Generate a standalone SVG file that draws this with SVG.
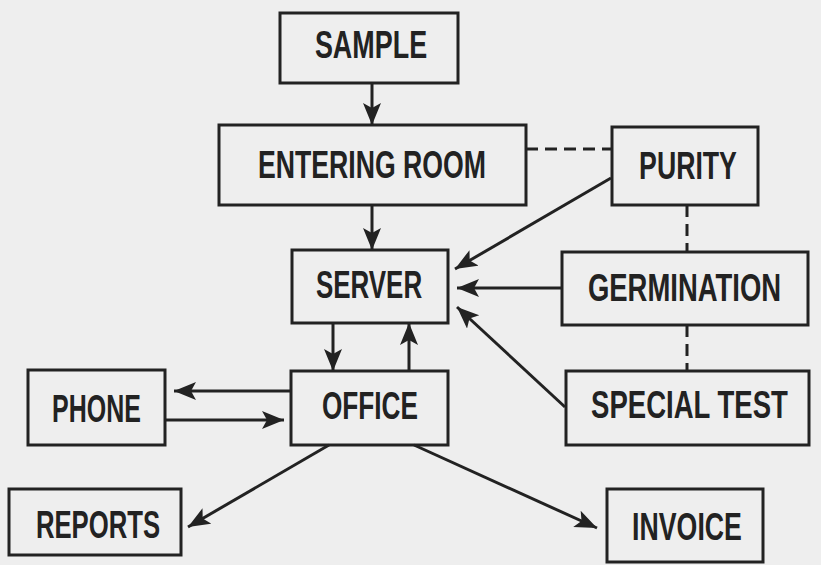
<svg xmlns="http://www.w3.org/2000/svg" width="821" height="565" viewBox="0 0 821 565">
<style>
.box{fill:none;stroke:#222;stroke-width:3}
.lbl{font-family:"Liberation Sans",Arial,sans-serif;font-weight:bold;font-size:38px;fill:#222;text-anchor:middle}
.ln{stroke:#222;stroke-width:3;fill:none}
.arr{marker-end:url(#ah)}
.dash{stroke-dasharray:12,7}
</style>
<defs>
<marker id="ah" markerUnits="userSpaceOnUse" markerWidth="26" markerHeight="20" refX="22" refY="9" orient="auto">
<path d="M0,0 L22,9 L0,18 L5,9 Z" fill="#222"/>
</marker>
</defs>
<rect width="821" height="565" fill="#eeeeee"/>
<g id="connectors">
<line class="ln arr" x1="372" y1="83" x2="372" y2="125"/>
<line class="ln dash" x1="526" y1="149" x2="612" y2="149"/>
<line class="ln dash" x1="687" y1="205" x2="687" y2="252"/>
<line class="ln dash" x1="687" y1="325" x2="687" y2="371"/>
<line class="ln arr" x1="372" y1="205" x2="372" y2="250"/>
<line class="ln arr" x1="611" y1="178" x2="455" y2="269"/>
<line class="ln arr" x1="562" y1="288" x2="457" y2="288"/>
<line class="ln arr" x1="565" y1="407" x2="457" y2="307"/>
<line class="ln arr" x1="333" y1="323" x2="333" y2="371"/>
<line class="ln arr" x1="409" y1="371" x2="409" y2="323"/>
<line class="ln arr" x1="291" y1="391" x2="174" y2="391"/>
<line class="ln arr" x1="165" y1="420" x2="284" y2="420"/>
<line class="ln arr" x1="329" y1="445" x2="188" y2="527"/>
<line class="ln arr" x1="414" y1="445" x2="597" y2="528"/>
</g>
<g id="sample"><rect class="box" x="280" y="13" width="178" height="70"/><text class="lbl" transform="translate(371,58) scale(0.6,1)" textLength="187" lengthAdjust="spacingAndGlyphs">SAMPLE</text></g>
<g id="entering-room"><rect class="box" x="219" y="125" width="307" height="80"/><text class="lbl" transform="translate(372,178) scale(0.6,1)" textLength="380" lengthAdjust="spacingAndGlyphs">ENTERING ROOM</text></g>
<g id="purity"><rect class="box" x="612" y="127" width="146" height="78"/><text class="lbl" transform="translate(688,179) scale(0.6,1)" textLength="163" lengthAdjust="spacingAndGlyphs">PURITY</text></g>
<g id="server"><rect class="box" x="292" y="250" width="156" height="73"/><text class="lbl" transform="translate(369,298) scale(0.6,1)" textLength="177" lengthAdjust="spacingAndGlyphs">SERVER</text></g>
<g id="germination"><rect class="box" x="562" y="252" width="246" height="73"/><text class="lbl" transform="translate(684.5,301) scale(0.6,1)" textLength="322" lengthAdjust="spacingAndGlyphs">GERMINATION</text></g>
<g id="phone"><rect class="box" x="28" y="370" width="137" height="75"/><text class="lbl" transform="translate(96.5,422) scale(0.6,1)" textLength="148" lengthAdjust="spacingAndGlyphs">PHONE</text></g>
<g id="office"><rect class="box" x="291" y="371" width="157" height="74"/><text class="lbl" transform="translate(370,419) scale(0.6,1)" textLength="160" lengthAdjust="spacingAndGlyphs">OFFICE</text></g>
<g id="special-test"><rect class="box" x="566" y="371" width="243" height="74"/><text class="lbl" transform="translate(689.5,418) scale(0.6,1)" textLength="328" lengthAdjust="spacingAndGlyphs">SPECIAL TEST</text></g>
<g id="reports"><rect class="box" x="9" y="489" width="172" height="66"/><text class="lbl" transform="translate(98,538) scale(0.6,1)" textLength="207" lengthAdjust="spacingAndGlyphs">REPORTS</text></g>
<g id="invoice"><rect class="box" x="607" y="489" width="156" height="73"/><text class="lbl" transform="translate(687,540) scale(0.6,1)" textLength="183" lengthAdjust="spacingAndGlyphs">INVOICE</text></g>
</svg>
